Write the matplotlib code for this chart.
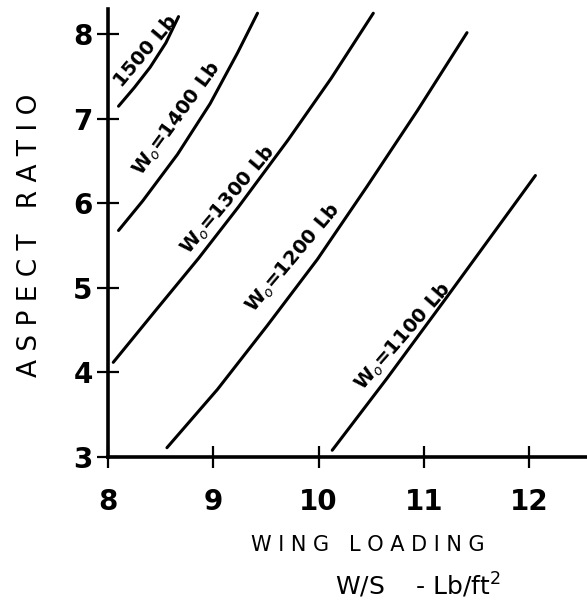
import matplotlib
matplotlib.use("Agg")
import matplotlib.pyplot as plt

# Curves: wing loading (x) vs aspect ratio (y) for constant gross weight
w1500_x = [8.10, 8.25, 8.40, 8.55, 8.67]
w1500_y = [7.15, 7.37, 7.61, 7.90, 8.21]
w1400_x = [8.10, 8.33, 8.66, 8.97, 9.23, 9.42]
w1400_y = [5.68, 6.03, 6.58, 7.18, 7.78, 8.25]
w1300_x = [8.05, 8.45, 8.86, 9.24, 9.71, 10.12, 10.52]
w1300_y = [4.12, 4.73, 5.35, 5.96, 6.75, 7.48, 8.25]
w1200_x = [8.56, 9.04, 9.51, 9.99, 10.46, 10.94, 11.41]
w1200_y = [3.11, 3.80, 4.55, 5.34, 6.20, 7.10, 8.02]
w1100_x = [10.13, 10.65, 11.20, 11.75, 12.06]
w1100_y = [3.08, 3.93, 4.86, 5.80, 6.33]

labels = ["1500 Lb", "W$_o$=1400 Lb", "W$_o$=1300 Lb", "W$_o$=1200 Lb", "W$_o$=1100 Lb"]
label_xy = [(8.36, 7.80), (8.65, 7.00), (9.14, 6.04), (9.76, 5.35), (10.80, 4.42)]
label_rot = [50, 54, 50, 50, 49]

x_ticks = [8, 9, 10, 11, 12]
y_ticks = [3, 4, 5, 6, 7, 8]

fig = plt.figure(figsize=(5.87, 6.06), dpi=100)
ax = fig.add_axes([108/587, 149/606, (587-108)/587, (457-9)/606])
ax.set_xlim(8, 12.55)
ax.set_ylim(3, 8.3)

for xs, ys in [(w1500_x, w1500_y), (w1400_x, w1400_y), (w1300_x, w1300_y),
               (w1200_x, w1200_y), (w1100_x, w1100_y)]:
    ax.plot(xs, ys, color="black", lw=2.2, solid_capstyle="round", solid_joinstyle="round")

for txt, (tx, ty), rot in zip(labels, label_xy, label_rot):
    ax.text(tx, ty, txt, rotation=rot, rotation_mode="anchor", ha="center", va="center",
            fontsize=14, fontweight="bold", color="black")

for s in ["top", "right"]:
    ax.spines[s].set_visible(False)
for s in ["left", "bottom"]:
    ax.spines[s].set_linewidth(2.6)
ax.set_xticks(x_ticks)
ax.set_yticks(y_ticks)
ax.tick_params(direction="inout", length=16, width=1.6, labelsize=20)
ax.tick_params(axis="x", pad=14)
ax.tick_params(axis="y", pad=3)
for lab in ax.get_xticklabels() + ax.get_yticklabels():
    lab.set_fontweight("bold")

fig.text(30/587, 1 - 235/606, "A S P E C T   R A T I O", rotation=90, ha="center", va="center",
         fontsize=19)
fig.text(368/587, 1 - 545/606, "W I N G   L O A D I N G", ha="center", va="center", fontsize=15)
fig.text(418/587, 1 - 586/606, "W/S    - Lb/ft$^2$", ha="center", va="center", fontsize=18)

fig.savefig("out.png", dpi=100)
